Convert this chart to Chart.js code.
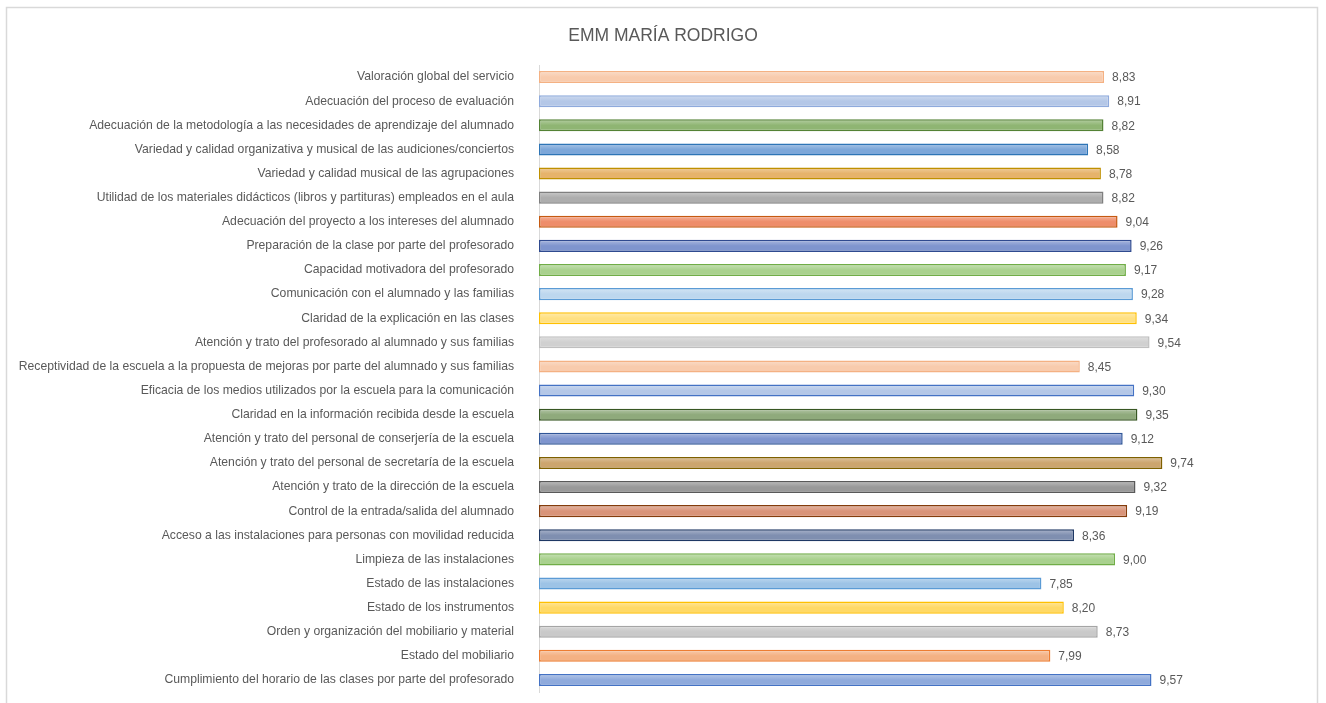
<!DOCTYPE html>
<html>
<head>
<meta charset="utf-8">
<script src="https://cdn.jsdelivr.net/npm/chart.js@4"></script>
<style>
  html, body { margin: 0; padding: 0; background: #fff; overflow: hidden; }
</style>
</head>
<body>
<canvas id="chartEncuesta" width="1326" height="703"></canvas>
<script>
// Categorías, de arriba a abajo tal como aparecen
const categorias = [
  'Valoración global del servicio',
  'Adecuación del proceso de evaluación',
  'Adecuación de la metodología a las necesidades de aprendizaje del alumnado',
  'Variedad y calidad organizativa y musical de las audiciones/conciertos',
  'Variedad y calidad musical de las agrupaciones',
  'Utilidad de los materiales didácticos (libros y partituras) empleados en el aula',
  'Adecuación del proyecto a los intereses del alumnado',
  'Preparación de la clase por parte del profesorado',
  'Capacidad motivadora del profesorado',
  'Comunicación con el alumnado y las familias',
  'Claridad de la explicación en las clases',
  'Atención y trato del profesorado al alumnado y sus familias',
  'Receptividad de la escuela a la propuesta de mejoras por parte del alumnado y sus familias',
  'Eficacia de los medios utilizados por la escuela para la comunicación',
  'Claridad en la información recibida desde la escuela',
  'Atención y trato del personal de conserjería de la escuela',
  'Atención y trato del personal de secretaría de la escuela',
  'Atención y trato de la dirección de la escuela',
  'Control de la entrada/salida del alumnado',
  'Acceso a las instalaciones para personas con movilidad reducida',
  'Limpieza de las instalaciones',
  'Estado de las instalaciones',
  'Estado de los instrumentos',
  'Orden y organización del mobiliario y material',
  'Estado del mobiliario',
  'Cumplimiento del horario de las clases por parte del profesorado'
];

const valoraciones = [
  8.83, 8.91, 8.82, 8.58, 8.78, 8.82, 9.04, 9.26, 9.17, 9.28, 9.34, 9.54, 8.45,
  9.30, 9.35, 9.12, 9.74, 9.32, 9.19, 8.36, 9.00, 7.85, 8.20, 8.73, 7.99, 9.57
];

const coloresRelleno = [
  '#f8cbad', '#b4c7e7', '#8fb573', '#7da7d9', '#e6b36b', '#adadad', '#ee8d6a',
  '#7f95ce', '#a9d18e', '#bdd7ee', '#ffe082', '#d0d0d0', '#f8cbad', '#b4c7e7',
  '#8faa7c', '#7f95ce', '#cca56e', '#999999', '#d99479', '#7f8fb0', '#a9d18e',
  '#9dc3e6', '#ffd966', '#c9c9c9', '#f4b183', '#8faadc'
];

const coloresBorde = [
  '#f4b183', '#8faadc', '#548235', '#2e75b6', '#bf9000', '#7f7f7f', '#c55a11',
  '#2f4a8f', '#70ad47', '#5b9bd5', '#ffc000', '#bfbfbf', '#f4b183', '#4472c4',
  '#385723', '#2f5597', '#7f6000', '#595959', '#843c0c', '#1f3864', '#70ad47',
  '#5b9bd5', '#ffc000', '#a5a5a5', '#ed7d31', '#4472c4'
];

const titulo = 'EMM MARÍA RODRIGO';
const colorTexto = '#595959';
const fuente = "'Liberation Sans', Arial, sans-serif";

function aclarar(hex, t) {
  const n = parseInt(hex.slice(1), 16);
  const r = (n >> 16) & 255, g = (n >> 8) & 255, b = n & 255;
  const mix = c => Math.round(c + (255 - c) * t);
  return `rgb(${mix(r)},${mix(g)},${mix(b)})`;
}

// relleno degradado como en Excel (más claro arriba)
const degradado = {
  id: 'degradado',
  beforeDatasetsDraw(chart) {
    const ctx = chart.ctx;
    chart.getDatasetMeta(0).data.forEach((bar, i) => {
      const h = bar.height / 2;
      const g = ctx.createLinearGradient(0, bar.y - h, 0, bar.y + h);
      g.addColorStop(0, aclarar(coloresRelleno[i], 0.35));
      g.addColorStop(0.5, coloresRelleno[i]);
      g.addColorStop(1, coloresRelleno[i]);
      bar.options.backgroundColor = g;
    });
  }
};

// etiquetas de valor al final de cada barra, con coma decimal
const etiquetasValor = {
  id: 'etiquetasValor',
  afterDatasetsDraw(chart) {
    const ctx = chart.ctx;
    const meta = chart.getDatasetMeta(0);
    ctx.save();
    ctx.font = `12px ${fuente}`;
    ctx.fillStyle = colorTexto;
    ctx.textAlign = 'left';
    ctx.textBaseline = 'middle';
    meta.data.forEach((bar, i) => {
      const txt = valoraciones[i].toFixed(2).replace('.', ',');
      ctx.fillText(txt, bar.x + 8, bar.y + 1);
    });
    ctx.restore();
  }
};

// marco gris exterior y título centrado en el lienzo
const marco = {
  id: 'marco',
  beforeDraw(chart) {
    const ctx = chart.ctx;
    ctx.save();
    ctx.strokeStyle = '#d9d9d9';
    ctx.lineWidth = 1.5;
    ctx.strokeRect(6.5, 7.5, 1311, 705);
    ctx.font = `17.5px ${fuente}`;
    ctx.fillStyle = colorTexto;
    ctx.textAlign = 'center';
    ctx.textBaseline = 'middle';
    ctx.fillText(titulo, chart.width / 2, 36);
    ctx.restore();
  }
};

const ctx = document.getElementById('chartEncuesta').getContext('2d');
new Chart(ctx, {
  type: 'bar',
  data: {
    labels: categorias,
    datasets: [{
      data: valoraciones,
      backgroundColor: coloresRelleno,
      borderColor: coloresBorde,
      borderWidth: 1.5,
      borderSkipped: false,
      barPercentage: 0.5,
      categoryPercentage: 1
    }]
  },
  options: {
    indexAxis: 'y',
    responsive: false,
    animation: false,
    layout: {
      padding: { left: 0, right: 147, top: 65, bottom: 11 }
    },
    scales: {
      x: {
        display: false,
        min: 0,
        max: 10
      },
      y: {
        // ancho fijo y sin relleno vertical extra por el padding de las marcas
        afterFit(scale) {
          scale.width = 539;
          scale.paddingTop = 0;
          scale.paddingBottom = 0;
        },
        grid: { display: false, drawTicks: false },
        border: { display: true, color: '#d9d9d9', width: 1 },
        ticks: {
          color: colorTexto,
          font: { family: fuente, size: 12.2 },
          padding: 25,
          autoSkip: false
        }
      }
    },
    plugins: {
      legend: { display: false },
      tooltip: { enabled: false },
      title: { display: false }
    }
  },
  plugins: [marco, degradado, etiquetasValor]
});
</script>
</body>
</html>
